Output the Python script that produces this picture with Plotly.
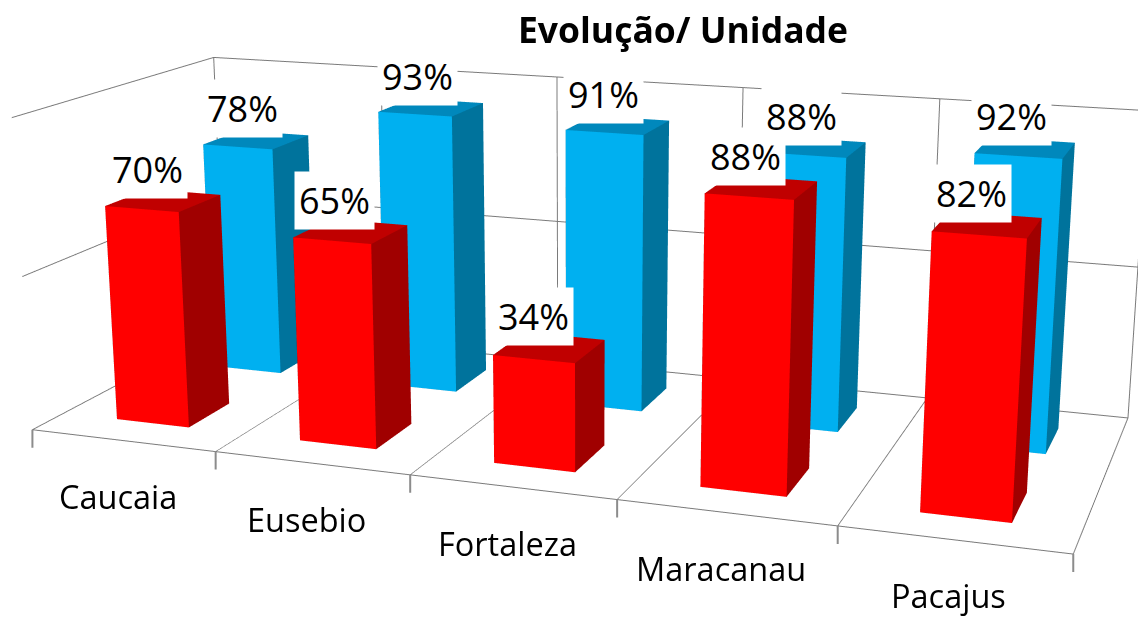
import plotly.graph_objects as go

categories = ["Caucaia", "Eusebio", "Fortaleza", "Maracanau", "Pacajus"]
red_values = [70, 65, 34, 88, 82]
blue_values = [78, 93, 91, 88, 92]

RED = ("#ff0000", "#c00000", "#a00000")
BLUE = ("#00b0f0", "#0088bc", "#00739c")
BAR_W = 0.4
BAR_D = 0.42
GRID = "#7a7a7a"
TICK = "#8c8c8c"
FOVY = 0.27


def bar(cx, cy, h, colors):
    x0, x1 = cx - BAR_W / 2, cx + BAR_W / 2
    y0, y1 = cy - BAR_D / 2, cy + BAR_D / 2
    xs = [x0, x1, x1, x0, x0, x1, x1, x0]
    ys = [y0, y0, y1, y1, y0, y0, y1, y1]
    zs = [0, 0, 0, 0, h, h, h, h]
    i = [0, 0, 4, 4, 1, 1, 3, 3, 0, 0, 0, 0]
    j = [1, 5, 5, 6, 2, 6, 2, 6, 3, 7, 1, 2]
    k = [5, 4, 6, 7, 6, 5, 6, 7, 7, 4, 2, 3]
    front, top, side = colors
    fc = [front, front, top, top, side, side, side, side, side, side, side, side]
    return go.Mesh3d(x=xs, y=ys, z=zs, i=i, j=j, k=k, facecolor=fc, flatshading=True,
                     lighting=dict(ambient=1, diffuse=0, specular=0, roughness=1, fresnel=0),
                     hoverinfo="skip", showscale=False)


fig = go.Figure()
for n, (r, b) in enumerate(zip(red_values, blue_values)):
    fig.add_trace(bar(n + 0.5, 1.5, b, BLUE))
    fig.add_trace(bar(n + 0.5, 0.5, r, RED))

annotations = []
label_font = dict(size=36, color="#000", family="Open Sans")
for n in range(len(categories) + 1):
    annotations.append(dict(x=n, y=0, z=0, text=" ", showarrow=True, arrowhead=0, arrowwidth=2,
                            arrowcolor=TICK, ax=0, ay=20, standoff=0, font=dict(size=1)))
for n, r in enumerate(red_values):
    annotations.append(dict(x=n + 0.5, y=0.5, z=r, text=f"{r}%", showarrow=False, bgcolor="white",
                            borderpad=4, xshift=-16, yshift=31, font=label_font))
for n, b in enumerate(blue_values):
    annotations.append(dict(x=n + 0.5, y=1.5, z=b, text=f"{b}%", showarrow=False, bgcolor="white",
                            borderpad=4, xshift=-14, yshift=31, font=label_font))
for n, c in enumerate(categories):
    annotations.append(dict(x=n + 0.5, y=0, z=0, text=c, showarrow=False, xshift=-5, yshift=-56,
                            font=dict(size=32.5, color="#000", family="Open Sans")))

ax = dict(showbackground=False, showticklabels=False, title="", showspikes=False,
          gridcolor=GRID, gridwidth=2, zeroline=False, showline=False, ticks="")
fig.update_layout(
    width=1146, height=619, paper_bgcolor="white", showlegend=False,
    margin=dict(l=0, r=0, t=0, b=0),
    font=dict(family="Open Sans"),
    title=dict(text="<b>Evolução/ Unidade</b>", x=0.589, xanchor="center", y=0.964, yanchor="middle",
               font=dict(size=35.5, color="#000", family="Open Sans")),
    scene=dict(
        domain=dict(x=[0, 1], y=[0, 1]),
        xaxis=dict(ax, range=[0, 5], tick0=0, dtick=1, showline=True, linecolor=GRID, linewidth=2),
        yaxis=dict(ax, range=[0, 2], showgrid=False),
        zaxis=dict(ax, range=[0, 100], tick0=0, dtick=50),
        aspectmode="manual", aspectratio=dict(x=2.165, y=0.853, z=0.665),
        camera=dict(eye=dict(x=1.531, y=-4.347, z=1.153), center=dict(x=0.001, y=-0.026, z=-0.092),
                    up=dict(x=-0.0066, y=-0.0023, z=1), projection=dict(type="perspective")),
        annotations=annotations,
    ),
)
narrow_lens = (
    "var s=document.getElementById('{plot_id}')._fullLayout.scene._scene;"
    "s.glplot.fovy=%f;s.glplot.redraw();" % FOVY
)
fig.write_html("out.html", post_script=narrow_lens)
